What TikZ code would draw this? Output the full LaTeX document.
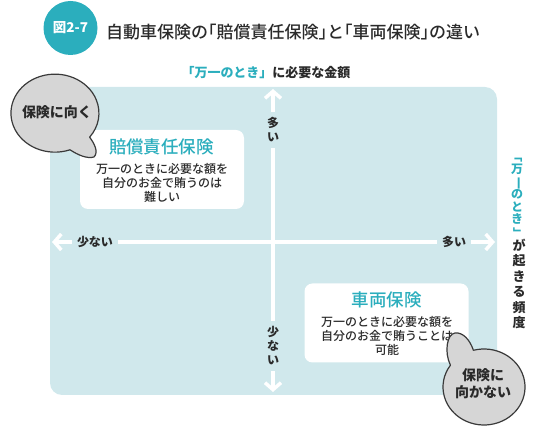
\documentclass[tikz,border=0pt]{standalone}
\usepackage{fontspec}
\setmainfont{Noto Sans CJK JP}
\newfontfamily\jpmed{Noto Sans CJK JP Medium}
\newfontfamily\jpmedh[RawFeature=+halt]{Noto Sans CJK JP Medium}
\usetikzlibrary{arrows.meta}
\definecolor{tealc}{HTML}{2BAEBD}
\definecolor{bgc}{HTML}{D0E8EC}
\definecolor{bubf}{HTML}{D6D6D6}
\definecolor{bubd}{HTML}{3A3A3A}
\definecolor{txt}{HTML}{2A2A2A}
\tikzset{
  axisline/.style={draw=white, line width=3.5pt, {Straight Barb[length=7pt,width=16pt]}-{Straight Barb[length=7pt,width=16pt]}},
  axlab/.style={fill=bgc, text=txt, font=\bfseries\fontsize{12}{14}\selectfont, align=center, inner xsep=5pt, inner ysep=6pt},
  card/.style={fill=white, rounded corners=8pt, minimum width=164pt, minimum height=79pt, inner sep=0pt},
  ctitle/.style={text=tealc, font=\jpmed\fontsize{17.5}{20}\selectfont, inner sep=0pt},
  cbody/.style={text=txt, font=\jpmed\fontsize{12}{14.3}\selectfont, align=center, inner sep=0pt},
  bubble/.style={fill=bubf, draw=bubd, line width=1.2pt, line join=round},
  bubtext/.style={text=txt, font=\bfseries\fontsize{14}{17}\selectfont, align=center, inner sep=0pt},
}
\begin{document}
\begin{tikzpicture}[x=1pt,y=-1pt]
\useasboundingbox (0,0) rectangle (550,430);
% title
\node[circle, fill=tealc, minimum size=54pt, inner sep=0pt, text=white, font=\bfseries\fontsize{13.5}{15}\selectfont] (badge) at (70.5,28) {図2-7};
\node[anchor=west, text=txt, font=\jpmedh\fontsize{17}{20}\selectfont, inner sep=0pt] (title) at (106,32) {自動車保険の「賠償責任保険」と「車両保険」の違い};
\node[text=txt, font=\bfseries\fontsize{13}{15}\selectfont, inner sep=0pt] (sub) at (266,73) {\textcolor{tealc}{「万一のとき」}に必要な金額};
% background
\fill[bgc, rounded corners=12pt] (50,87) rectangle (497,395);
% axes
\coordinate (L) at (52,242);
\coordinate (R) at (495,242);
\coordinate (T) at (273,89);
\coordinate (B) at (273,392);
\draw[axisline] (L) -- (R);
\draw[axisline] (B) -- (T);
\node[axlab] (ytop) at (273,130) {多\\い};
\node[axlab] (ybot) at (273,346) {少\\な\\い};
\node[axlab] (xleft) at (95,242) {少ない};
\node[axlab] (xright) at (454,242) {多い};
% right vertical label
\node[text=tealc, font=\bfseries\fontsize{12}{12.5}\selectfont, align=center, inner sep=0pt] (vt1) at (517,195) {\rotatebox[origin=c]{-90}{「}\\万\\\rotatebox[origin=c]{-90}{一}\\の\\と\\き\\\rotatebox[origin=c]{-90}{」}};
\node[text=txt, font=\bfseries\fontsize{13}{15.5}\selectfont, align=center, inner sep=0pt] (vt2) at (519,284) {が\\起\\き\\る\\頻\\度};
% cards
\node[card] (c1) at (162,169.5) {};
\node[ctitle] (c1t) at (161.5,147) {賠償責任保険};
\node[cbody] (c1b) at (162,183) {万一のときに必要な額を\\自分のお金で賄うのは\\難しい};
\node[card] (c2) at (386.5,323) {};
\node[ctitle] (c2t) at (386.5,300) {車両保険};
\node[cbody] (c2b) at (387,336) {万一のときに必要な額を\\自分のお金で賄うことは\\可能};
% bubbles
\draw[bubble] (70,149.8) arc[start angle=70, end angle=398, x radius=44, y radius=39]
  .. controls (94,143) and (99,152) .. (94,157)
  .. controls (87,159) and (78,155) .. (70,149.8) -- cycle;
\node[bubtext] (b1t) at (57,112) {保険に向く};
\draw[bubble] (473.4,350.3) arc[start angle=255, end angle=575, x radius=41, y radius=38]
  .. controls (444,352) and (447,334) .. (455,333)
  .. controls (463,332) and (470,340) .. (473.4,350.3) -- cycle;
\node[bubtext] (b2t) at (483,384) {保険に\\向かない};
\end{tikzpicture}
\end{document}
